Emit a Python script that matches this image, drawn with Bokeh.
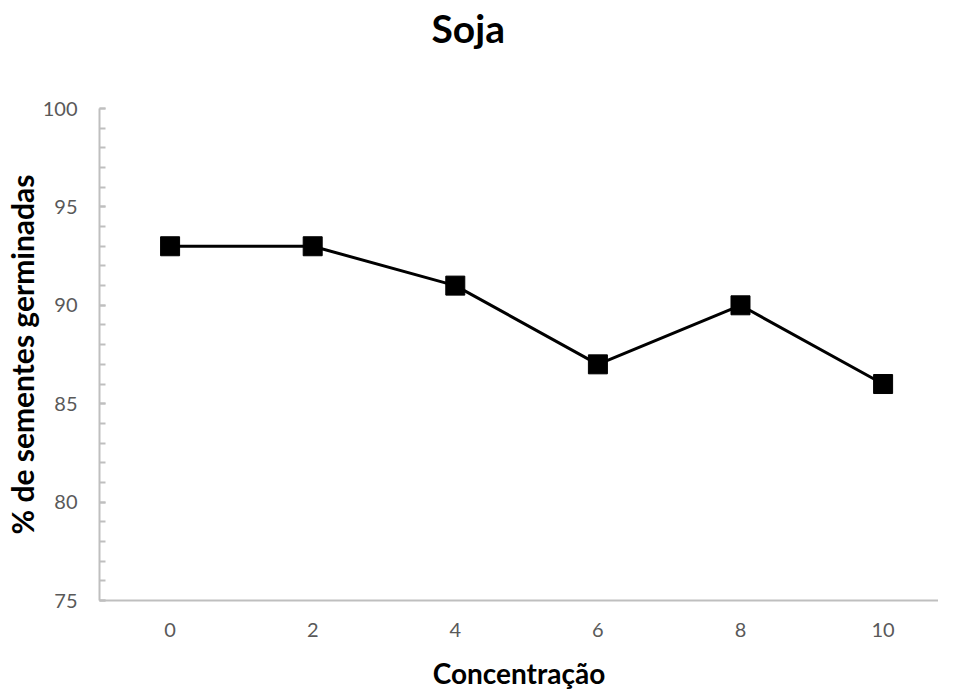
from bokeh.plotting import figure
from bokeh.models import Range1d, SingleIntervalTicker, FixedTicker, Title
from bokeh.embed import file_html
from bokeh.resources import INLINE

# Data
concentracao = [0, 2, 4, 6, 8, 10]
germinadas = [93, 93, 91, 87, 90, 86]
x_ticks = [0, 2, 4, 6, 8, 10]
title_text = "Soja"
x_label = "Concentração"
y_label = "% de sementes germinadas"

p = figure(width=938, height=692, output_backend="svg", toolbar_location=None,
           x_range=Range1d(-0.99, 10.777), y_range=Range1d(75, 100),
           min_border_left=92, min_border_right=0, min_border_top=108,
           min_border_bottom=90)
p.outline_line_color = None
p.xgrid.grid_line_color = None
p.ygrid.grid_line_color = None
p.background_fill_color = "white"
p.border_fill_color = "white"

axis_col = "#bfbfbf"
lbl_col = "#595959"

# y axis
p.yaxis.ticker = SingleIntervalTicker(interval=5, num_minor_ticks=5)
p.yaxis.axis_line_color = axis_col
p.yaxis.axis_line_width = 2
p.yaxis.major_tick_line_color = axis_col
p.yaxis.major_tick_line_width = 2
p.yaxis.minor_tick_line_color = axis_col
p.yaxis.minor_tick_line_width = 2
p.yaxis.major_tick_in = 6
p.yaxis.major_tick_out = 0
p.yaxis.minor_tick_in = 6
p.yaxis.minor_tick_out = 0
p.yaxis.major_label_standoff = 22
p.yaxis.major_label_text_font = "Lato"
p.yaxis.major_label_text_font_size = "20px"
p.yaxis.major_label_text_color = lbl_col
p.yaxis.axis_label = y_label
p.yaxis.axis_label_text_font = "Lato"
p.yaxis.axis_label_text_font_style = "bold"
p.yaxis.axis_label_text_font_size = "30px"
p.yaxis.axis_label_text_color = "black"
p.yaxis.axis_label_standoff = 0

# x axis
p.xaxis.ticker = FixedTicker(ticks=x_ticks)
p.xaxis.axis_line_color = axis_col
p.xaxis.axis_line_width = 2
p.xaxis.major_tick_line_color = None
p.xaxis.minor_tick_line_color = None
p.xaxis.major_label_standoff = 16
p.xaxis.major_label_text_font = "Lato"
p.xaxis.major_label_text_font_size = "20px"
p.xaxis.major_label_text_color = lbl_col
p.xaxis.axis_label = x_label
p.xaxis.axis_label_text_font = "Lato"
p.xaxis.axis_label_text_font_style = "bold"
p.xaxis.axis_label_text_font_size = "28px"
p.xaxis.axis_label_text_color = "black"
p.xaxis.axis_label_standoff = 16

p.line(concentracao, germinadas, line_color="black", line_width=3)
p.scatter(concentracao, germinadas, marker="square", size=19,
          fill_color="black", line_color="black")

spacer = Title(text=" ", standoff=49, text_font_size="1px",
               text_color="white")
p.add_layout(spacer, "above")
title = Title(text=title_text, align="left", offset=332, standoff=8,
              vertical_align="top",
              text_font="Lato", text_font_style="bold",
              text_font_size="39px", text_color="black")
p.add_layout(title, "above")

open("out.html", "w").write(file_html(p, INLINE))
